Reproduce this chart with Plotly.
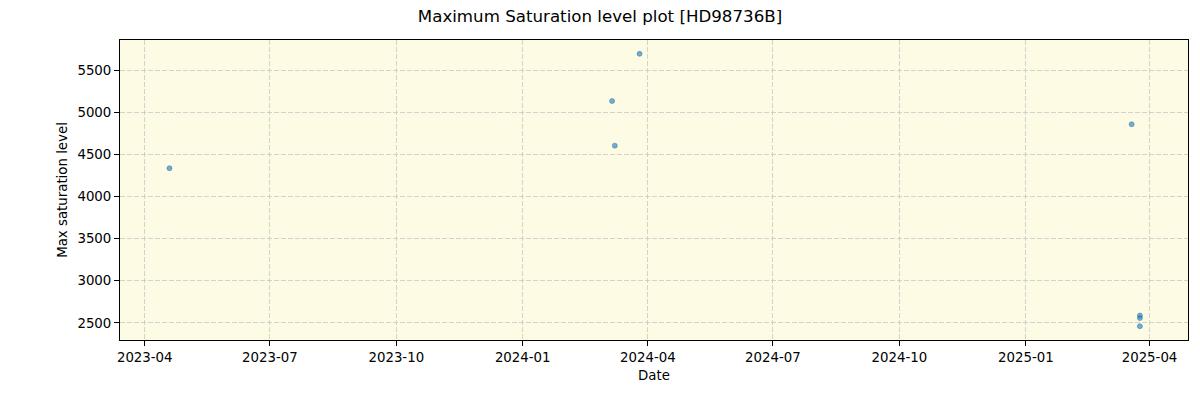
import plotly.graph_objects as go

dates = ["2023-04-19", "2024-03-06", "2024-03-08", "2024-03-26", "2025-03-19",
         "2025-03-25", "2025-03-25", "2025-03-25"]
levels = [4335, 5132, 4603, 5692, 4856, 2588, 2558, 2462]

x_ticks = ["2023-04-01", "2023-07-01", "2023-10-01", "2024-01-01", "2024-04-01",
           "2024-07-01", "2024-10-01", "2025-01-01", "2025-04-01"]
x_tick_labels = ["2023-04", "2023-07", "2023-10", "2024-01", "2024-04",
                 "2024-07", "2024-10", "2025-01", "2025-04"]
y_ticks = [2500, 3000, 3500, 4000, 4500, 5000, 5500]

font = "DejaVu Sans"

fig = go.Figure()
fig.add_trace(go.Scatter(
    x=dates, y=levels, mode="markers",
    marker=dict(color="rgba(31,119,180,0.6)", size=5,
                line=dict(width=0.6, color="rgba(31,119,180,0.8)")),
    showlegend=False,
))

axis_common = dict(
    showline=True, linecolor="black", linewidth=1, mirror=True,
    ticks="outside", ticklen=5, tickcolor="black", tickwidth=1,
    showgrid=True, gridcolor="rgba(200,200,200,0.8)", griddash="5px,2px", gridwidth=1,
    zeroline=False,
    tickfont=dict(family=font, size=13.33, color="black"),
)

fig.update_layout(
    width=1200, height=400,
    margin=dict(l=120, r=12, t=40, b=60),
    paper_bgcolor="white",
    plot_bgcolor="#fdfbe3",
    title=dict(text="Maximum Saturation level plot [HD98736B]",
               x=0.5, xanchor="center", y=0.96, yanchor="middle",
               font=dict(family=font, size=16.67, color="black")),
    xaxis=dict(
        range=["2023-03-14", "2025-04-29"],
        tickmode="array", tickvals=x_ticks, ticktext=x_tick_labels,
        title=dict(text="Date", font=dict(family=font, size=13.33, color="black"), standoff=6),
        **axis_common,
    ),
    yaxis=dict(
        range=[2298, 5856],
        tickmode="array", tickvals=y_ticks, ticktext=[str(v) for v in y_ticks],
        title=dict(text="Max saturation level", font=dict(family=font, size=13.33, color="black"), standoff=6),
        **axis_common,
    ),
)

fig.write_html("out.html")
